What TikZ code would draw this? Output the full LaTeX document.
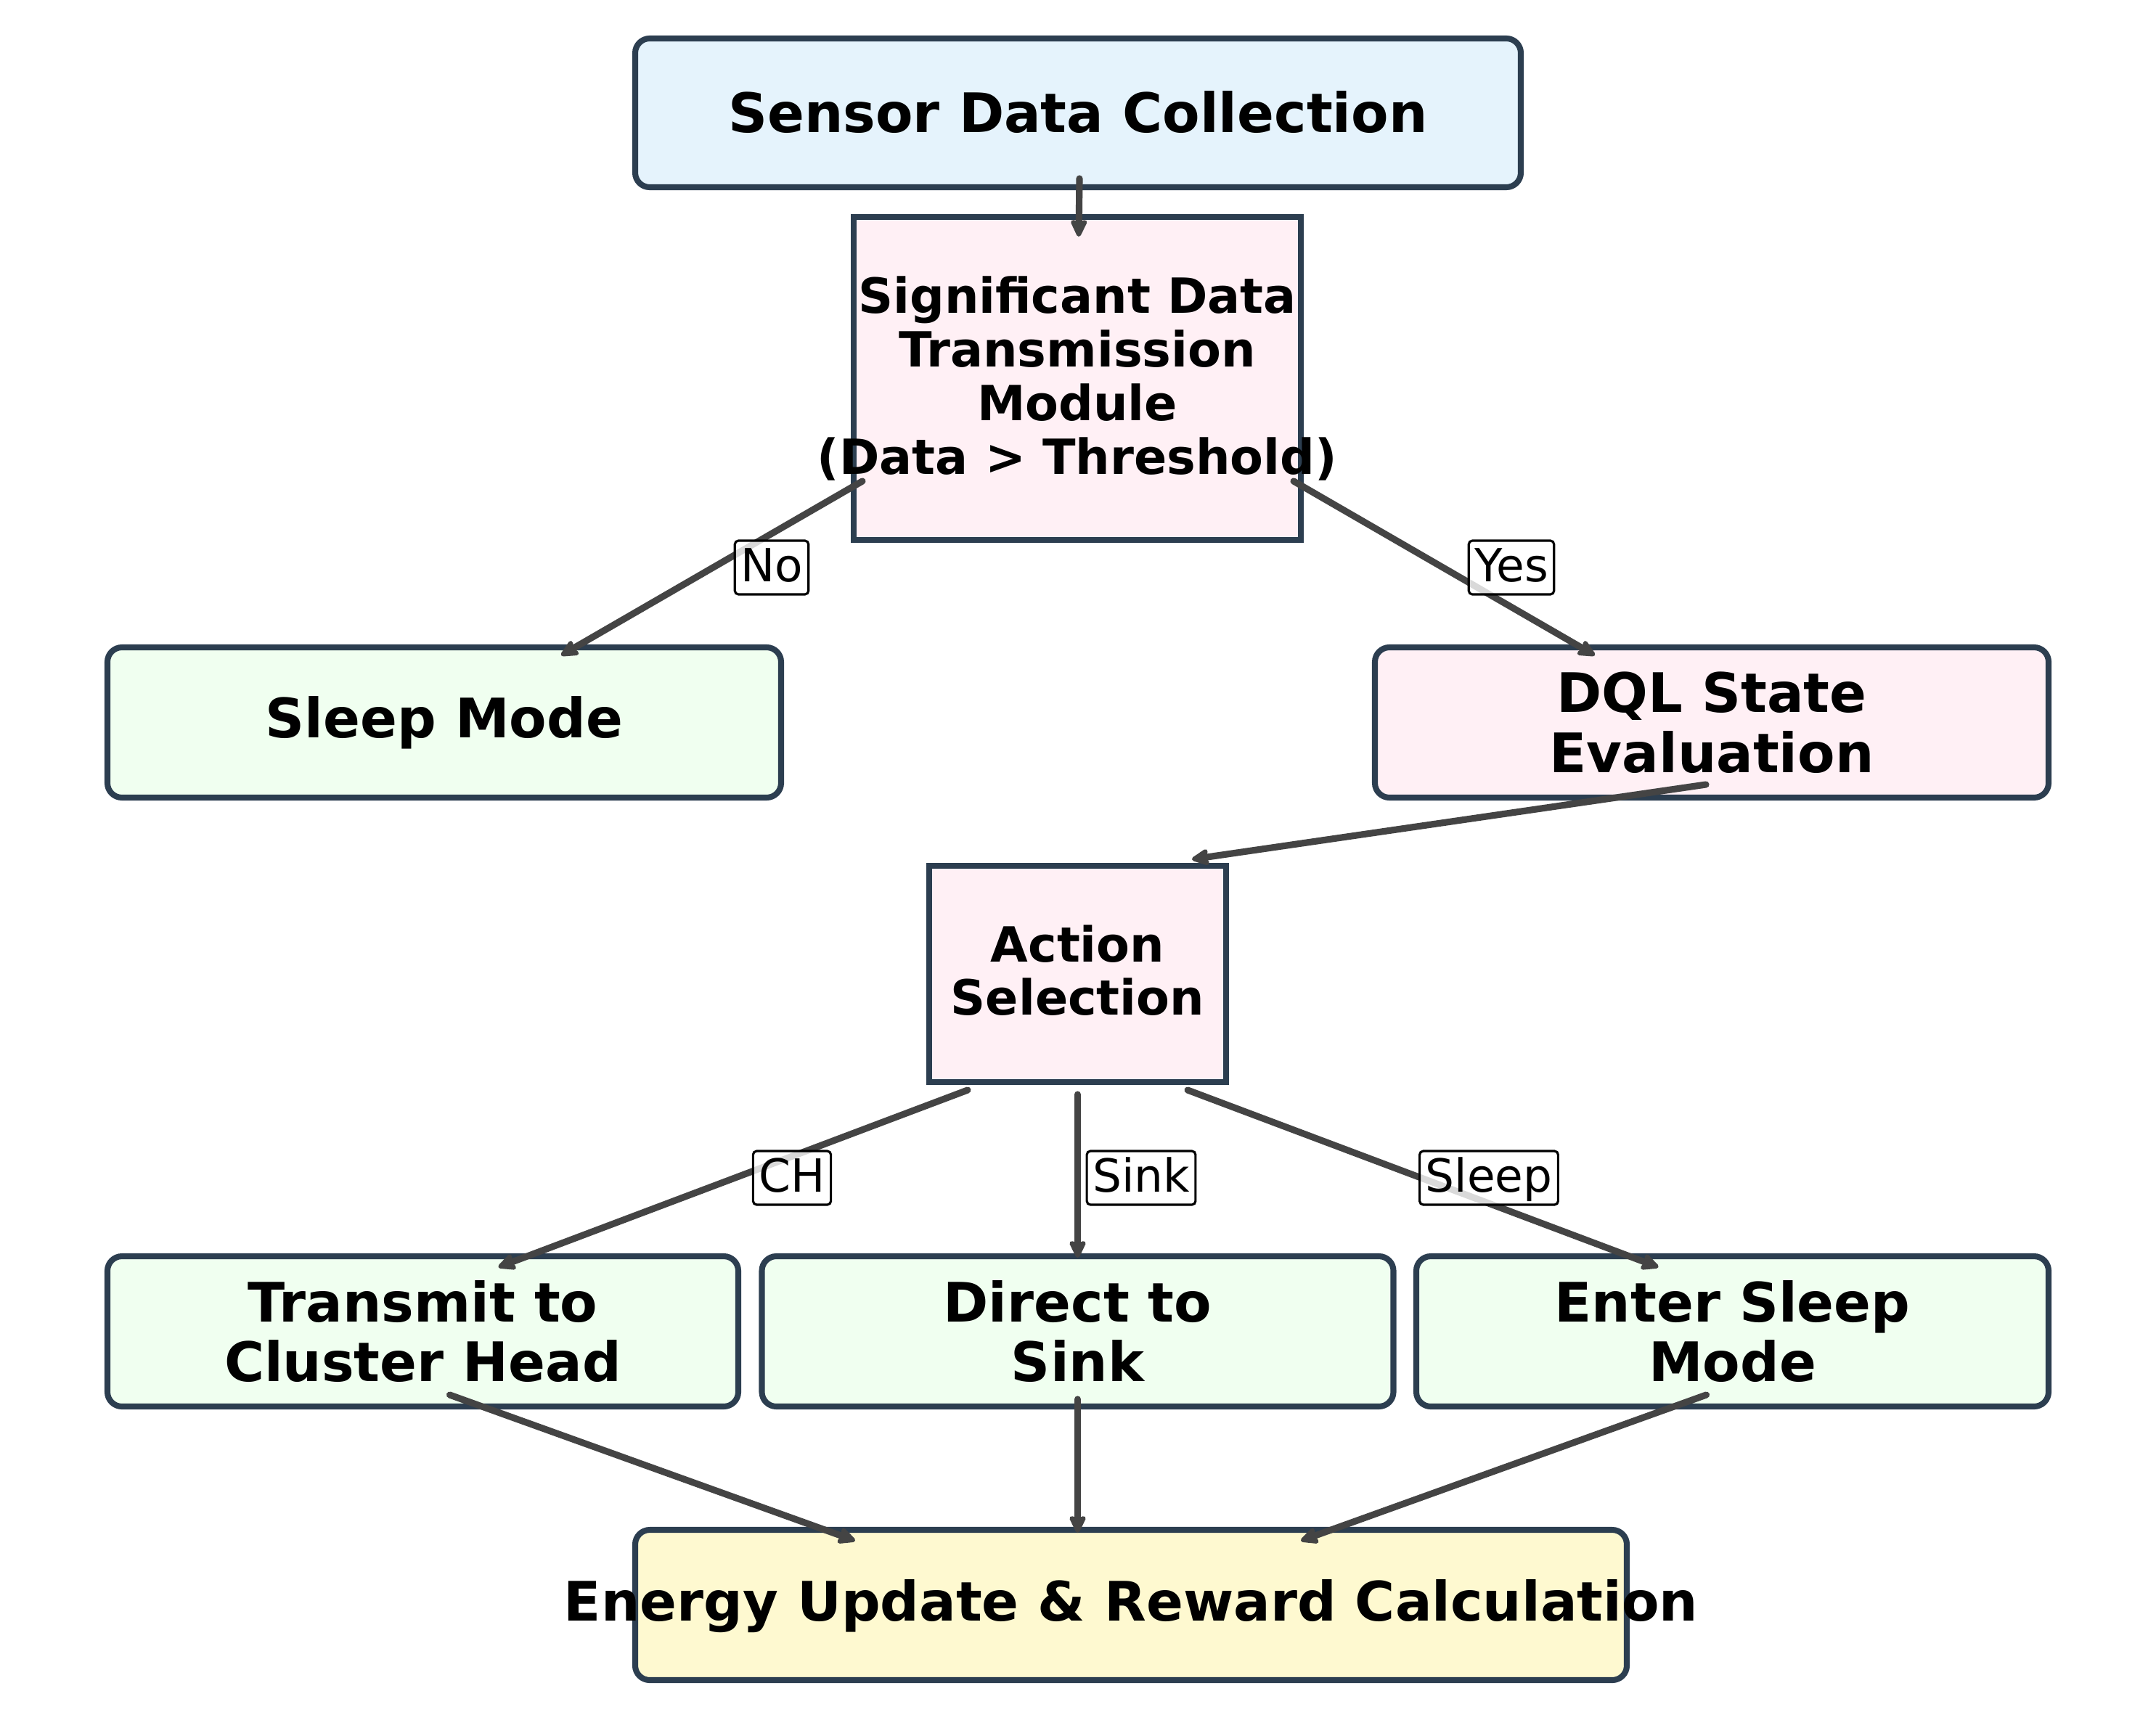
\documentclass[tikz,border=0pt]{standalone}
\usepackage{fontspec}
\setmainfont{DejaVu Sans}
\usetikzlibrary{arrows.meta}
\definecolor{edgec}{HTML}{2C3E50}
\definecolor{arrc}{HTML}{444444}
\definecolor{fblue}{HTML}{E5F3FC}
\definecolor{fpink}{HTML}{FFF0F5}
\definecolor{fgreen}{HTML}{F0FFF0}
\definecolor{fyellow}{HTML}{FEF9D0}
\tikzset{
  boxbase/.style={draw=edgec, line width=2.3pt, align=center, inner sep=0pt, outer sep=0pt},
  rbox/.style={boxbase, rounded corners=0.2cm, minimum height=2.07cm, font=\fontsize{21.35}{23.6}\selectfont\bfseries},
  sbox/.style={boxbase, fill=fpink},
  stext/.style={align=center, inner sep=0pt, font=\fontsize{19}{21}\selectfont\bfseries},
  conn/.style={draw=arrc, line width=2.6pt, line cap=round, -{Stealth[length=0.29cm, width=0.27cm, inset=0.05cm, round]}},
  lbl/.style={draw=black, line width=0.9pt, rounded corners=0.05cm, fill=white, fill opacity=0.8, text opacity=1, inner xsep=0.08cm, inner ysep=0.04cm, font=\fontsize{17.9}{20}\selectfont, text height=0.52cm, text depth=0.14cm}
}
\begin{document}
\begin{tikzpicture}
\useasboundingbox (0,0) rectangle (29.7,-23.7);
\fill[white] (0,0) rectangle (29.7,-23.7);
% nodes
\node[rbox, fill=fblue, minimum width=12.2cm, minimum height=2.05cm] (top) at (14.85,-1.555) {\raisebox{0.04cm}{Sensor Data Collection}};
\node[sbox, minimum width=6.16cm, minimum height=4.45cm] (sig) at (14.84,-5.215) {};
\node[stext] (sigt) at (sig.center) {Significant Data\\Transmission\\Module\\(Data > Threshold)};
\node[rbox, fill=fgreen, minimum width=9.28cm] (sleep) at (6.12,-9.955) {Sleep Mode};
\node[rbox, fill=fpink, minimum width=9.28cm] (dql) at (23.58,-9.955) {DQL State\\Evaluation};
\node[sbox, minimum width=4.09cm, minimum height=2.98cm] (act) at (14.845,-13.42) {};
\node[stext] (actt) at ([yshift=0.05cm]act.center) {Action\\Selection};
\node[rbox, fill=fgreen, minimum width=8.69cm] (trans) at (5.825,-18.345) {Transmit to\\Cluster Head};
\node[rbox, fill=fgreen, minimum width=8.70cm] (direct) at (14.845,-18.345) {Direct to\\Sink};
\node[rbox, fill=fgreen, minimum width=8.71cm] (enter) at (23.865,-18.345) {Enter Sleep\\Mode};
\node[rbox, fill=fyellow, minimum width=13.66cm] (energy) at (15.58,-22.115) {};
\node[font=\fontsize{21.35}{23.6}\selectfont\bfseries, inner sep=0pt] (energyt) at ([yshift=-0.02cm]energy.center) {Energy Update \& Reward Calculation};
% connectors
\draw[conn] ([shift={(0.02,0.12)}]top.south) -- ([shift={(0.02,-0.27)}]sig.north);
\draw[conn] ([shift={(0.12,0.81)}]sig.south west) -- ([shift={(1.61,-0.11)}]sleep.north);
\draw[conn] ([shift={(-0.10,0.81)}]sig.south east) -- ([shift={(-1.61,-0.11)}]dql.north);
\draw[conn] ([shift={(-0.08,0.18)}]dql.south) -- ([shift={(-0.47,0.09)}]act.north east);
\draw[conn] ([shift={(0.53,-0.11)}]act.south west) -- ([shift={(1.04,-0.15)}]trans.north);
\draw[conn] ([shift={(0,-0.17)}]act.south) -- ([shift={(0,-0.02)}]direct.north);
\draw[conn] ([shift={(-0.53,-0.11)}]act.south east) -- ([shift={(-1.02,-0.15)}]enter.north);
\draw[conn] ([shift={(0.37,0.16)}]trans.south) -- ([shift={(-3.80,-0.15)}]energy.north);
\draw[conn] ([shift={(0,0.10)}]direct.south) -- ([shift={(-0.735,-0.04)}]energy.north);
\draw[conn] ([shift={(-0.36,0.16)}]enter.south) -- ([shift={(2.34,-0.15)}]energy.north);
% labels
\node[lbl] (lno) at (10.63,-7.82) {No};
\node[lbl] (lyes) at (20.82,-7.82) {Yes};
\node[lbl] (lch) at (10.91,-16.23) {CH};
\node[lbl] (lsink) at (15.72,-16.23) {Sink};
\node[lbl] (lsleep) at (20.51,-16.23) {Sleep};
\end{tikzpicture}
\end{document}
